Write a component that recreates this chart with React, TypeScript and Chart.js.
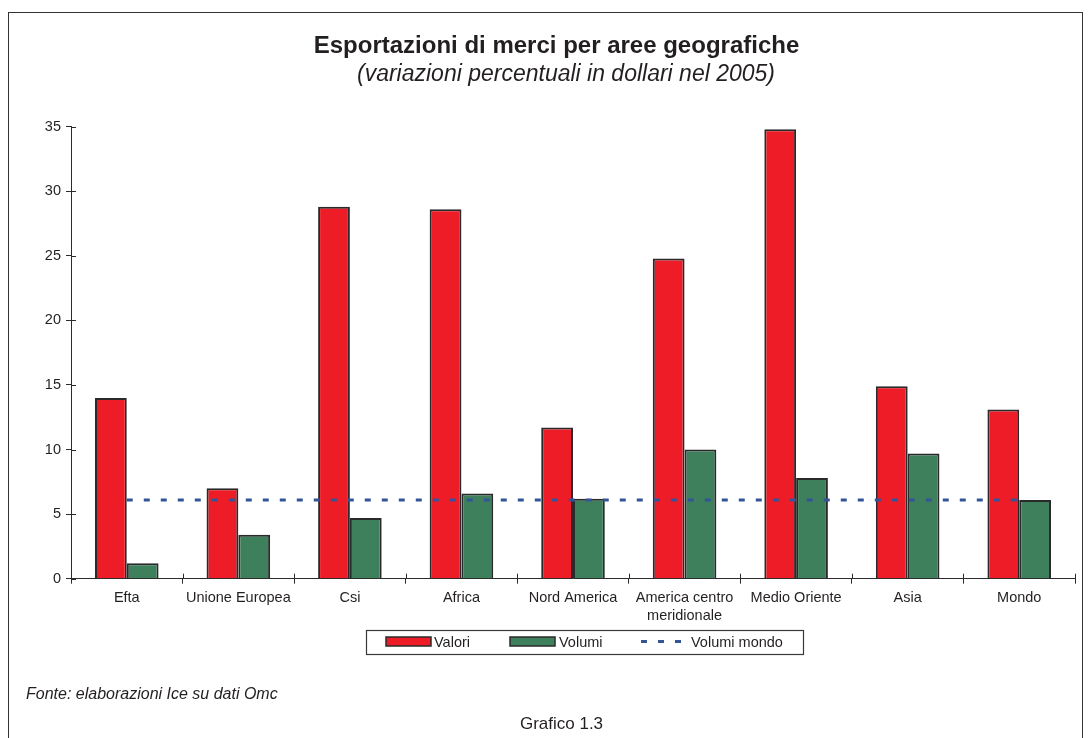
import React, { useEffect, useRef } from "react";
import { Chart, registerables } from "chart.js";

Chart.register(...registerables);

const FONT = '"Liberation Sans", Arial, Helvetica, sans-serif';
const TEXT = "#231f20";

const titleText = "Esportazioni di merci per aree geografiche";
const subtitleText = "(variazioni percentuali in dollari nel 2005)";
const sourceText = "Fonte: elaborazioni Ice su dati Omc";
const figureText = "Grafico 1.3";

const categories: (string | string[])[] = [
  "Efta",
  "Unione Europea",
  "Csi",
  "Africa",
  "Nord America",
  ["America centro", "meridionale"],
  "Medio Oriente",
  "Asia",
  "Mondo",
];
const valori = [14.0, 7.0, 28.8, 28.6, 11.7, 24.8, 34.8, 14.9, 13.1];
const volumi = [1.2, 3.4, 4.7, 6.6, 6.2, 10.0, 7.8, 9.7, 6.1];
const volumiMondo = [6.1, 6.1, 6.1, 6.1, 6.1, 6.1, 6.1, 6.1, 6.1];
const seriesNames = ["Valori", "Volumi", "Volumi mondo"];
const yTicks = { min: 0, max: 35, step: 5 };

const decorPlugin = {
  id: "decor",
  afterDraw(chart: any) {
    const ctx = chart.ctx;
    const xs = chart.scales.x;
    const ys = chart.scales.y;
    ctx.save();
    // inner half of crossing tick marks
    ctx.strokeStyle = "#2b2b2b";
    ctx.lineWidth = 1;
    ctx.beginPath();
    ys.ticks.forEach((t: any) => {
      const y = Math.round(ys.getPixelForValue(t.value)) + 0.5;
      ctx.moveTo(ys.right, y);
      ctx.lineTo(ys.right + 5, y);
    });
    const n = categories.length;
    for (let i = 0; i <= n; i++) {
      const x = Math.round(xs.left + (i * xs.width) / n) + 0.5;
      ctx.moveTo(x, xs.top);
      ctx.lineTo(x, xs.top - 5);
    }
    ctx.stroke();

    // titles
    ctx.fillStyle = TEXT;
    ctx.textBaseline = "middle";
    ctx.textAlign = "center";
    ctx.font = `bold 24px ${FONT}`;
    ctx.fillText(titleText, 547.5, 33);
    ctx.font = `italic 23px ${FONT}`;
    ctx.fillText(subtitleText, 557, 62);

    // legend
    const ds = chart.data.datasets;
    ctx.strokeStyle = "#3a3a3a";
    ctx.lineWidth = 1.2;
    ctx.strokeRect(357.5, 617.5, 437, 24);
    ctx.font = `14.5px ${FONT}`;
    ctx.textAlign = "left";
    const boxes = [
      { x: 377, tx: 425 },
      { x: 501, tx: 550 },
    ];
    boxes.forEach((b, i) => {
      ctx.fillStyle = ds[i].backgroundColor;
      ctx.fillRect(b.x, 624, 45, 9);
      ctx.strokeStyle = ds[i].borderColor;
      ctx.lineWidth = 1.5;
      ctx.strokeRect(b.x, 624, 45, 9);
      ctx.fillStyle = TEXT;
      ctx.fillText(ds[i].label, b.tx, 629.5);
    });
    ctx.strokeStyle = ds[2].borderColor;
    ctx.lineWidth = 3;
    ctx.setLineDash([6, 11]);
    ctx.beginPath();
    ctx.moveTo(632, 628.5);
    ctx.lineTo(673, 628.5);
    ctx.stroke();
    ctx.setLineDash([]);
    ctx.fillStyle = TEXT;
    ctx.fillText(ds[2].label, 682, 629.5);

    // footer
    ctx.font = `italic 16px ${FONT}`;
    ctx.fillText(sourceText, 17, 682);
    ctx.textAlign = "center";
    ctx.font = `17px ${FONT}`;
    ctx.fillText(figureText, 552.5, 711);
    ctx.restore();
  },
};

export default function App() {
  const ref = useRef<HTMLCanvasElement>(null);
  useEffect(() => {
    if (!ref.current) return;
    const chart = new Chart(ref.current, {
      type: "bar",
      data: {
        labels: categories as any,
        datasets: [
          {
            type: "bar",
            label: seriesNames[0],
            data: valori,
            backgroundColor: "#ed1c26",
            borderColor: "#2a2a2a",
            borderWidth: 2,
            barPercentage: 1,
            categoryPercentage: 0.57,
            order: 1,
          },
          {
            type: "bar",
            label: seriesNames[1],
            data: volumi,
            backgroundColor: "#3e805c",
            borderColor: "#2a2a2a",
            borderWidth: 2,
            barPercentage: 1,
            categoryPercentage: 0.57,
            order: 1,
          },
          {
            type: "line",
            label: seriesNames[2],
            data: volumiMondo,
            borderColor: "#34549a",
            backgroundColor: "#34549a",
            borderWidth: 3,
            borderDash: [6, 11],
            pointRadius: 0,
            fill: false,
            order: 0,
          } as any,
        ],
      },
      options: {
        animation: false,
        responsive: false,
        devicePixelRatio: 1,
        layout: { padding: { left: 0, right: 7, top: 113.7, bottom: 99.3 } },
        plugins: {
          legend: { display: false },
          title: { display: false },
          tooltip: { enabled: false },
        },
        scales: {
          x: {
            offset: true,
            grid: {
              offset: true,
              drawOnChartArea: false,
              drawTicks: true,
              tickLength: 5,
              color: "#2b2b2b",
            },
            border: { display: true, color: "#2b2b2b", width: 1 },
            ticks: {
              color: TEXT,
              font: { family: FONT, size: 14.5 },
              padding: 6,
              maxRotation: 0,
              autoSkip: false,
            },
            afterFit: (s: any) => {
              s.height = 60;
            },
          },
          y: {
            min: yTicks.min,
            max: yTicks.max,
            grid: {
              drawOnChartArea: false,
              drawTicks: true,
              tickLength: 5,
              color: "#2b2b2b",
            },
            border: { display: true, color: "#2b2b2b", width: 1 },
            ticks: {
              stepSize: yTicks.step,
              color: TEXT,
              font: { family: FONT, size: 14.5 },
              padding: 5,
            },
            afterFit: (s: any) => {
              s.width = 62;
            },
          },
        },
      },
      plugins: [decorPlugin],
    });
    return () => chart.destroy();
  }, []);

  return (
    <div
      style={{
        position: "absolute",
        left: 8,
        top: 12,
        width: 1073,
        height: 726,
        borderTop: "1px solid #333",
        borderLeft: "1px solid #333",
        borderRight: "1px solid #333",
        boxSizing: "content-box",
        background: "#fff",
      }}
    >
      <canvas ref={ref} width={1073} height={725} style={{ display: "block" }} />
    </div>
  );
}
